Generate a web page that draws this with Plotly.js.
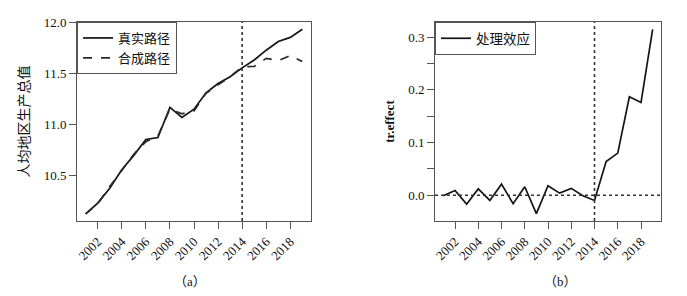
<!DOCTYPE html>
<html>
<head>
<meta charset="utf-8">
<script src="https://cdn.plot.ly/plotly-3.0.1.min.js"></script>
<style>html,body{margin:0;padding:0;background:#fff;}#chart{width:687px;height:296px;}</style>
</head>
<body>
<div id="chart"></div>
<script>
var years = [2001,2002,2003,2004,2005,2006,2007,2008,2009,2010,2011,2012,2013,2014,2015,2016,2017,2018,2019];
var actualPath = [10.13,10.235,10.38,10.56,10.70,10.855,10.873,11.168,11.07,11.15,11.31,11.40,11.466,11.553,11.63,11.725,11.81,11.85,11.93];
var syntheticPath = [10.13,10.226,10.397,10.548,10.71,10.834,10.889,11.152,11.105,11.132,11.306,11.387,11.467,11.563,11.566,11.645,11.623,11.674,11.615];
var treatEffect = [-0.001,0.009,-0.017,0.012,-0.010,0.021,-0.016,0.016,-0.035,0.018,0.004,0.013,-0.001,-0.010,0.064,0.080,0.187,0.176,0.315];
var xTicks = [2002,2004,2006,2008,2010,2012,2014,2016,2018];
var yTicksA = [10.5,11.0,11.5,12.0];
var yTickTextA = ["10.5","11.0","11.5","12.0"];
var yTicksB = [0,0.05,0.1,0.15,0.2,0.25,0.3];
var yTickTextB = ["0.0","","0.1","","0.2","","0.3"];
var treatYear = 2014;

var serif = "'Liberation Serif', 'Times New Roman', 'DejaVu Serif', 'Noto Sans CJK SC', serif";
var ink = "#141414";
var frame = "#555";
var txt = "#111";

var traces = [
  {x: years, y: actualPath, type: "scatter", mode: "lines", name: "真实路径",
   line: {color: ink, width: 1.7}, xaxis: "x", yaxis: "y", legend: "legend"},
  {x: years, y: syntheticPath, type: "scatter", mode: "lines", name: "合成路径",
   line: {color: "#2a2a2a", width: 1.7, dash: "dash"}, xaxis: "x", yaxis: "y", legend: "legend"},
  {x: years, y: treatEffect, type: "scatter", mode: "lines", name: "处理效应",
   line: {color: ink, width: 1.7}, xaxis: "x2", yaxis: "y2", legend: "legend2"}
];

function xAxis(dom, anchor) {
  return {domain: dom, anchor: anchor, range: [2000.28, 2019.72], tickmode: "array", tickvals: xTicks,
    tickangle: -45, ticks: "outside", ticklen: 7, tickcolor: frame, showgrid: false, zeroline: false,
    showline: true, mirror: true, linecolor: frame, linewidth: 1,
    tickfont: {family: serif, size: 13, color: txt}};
}
function yAxis(dom, anchor, rng, tv, tt, title, tfont, standoff) {
  return {domain: dom, anchor: anchor, range: rng, tickmode: "array", tickvals: tv, ticktext: tt,
    ticks: "outside", ticklen: 7, tickcolor: frame, showgrid: false, zeroline: false,
    showline: true, mirror: true, linecolor: frame, linewidth: 1,
    tickfont: {family: serif, size: 13, color: txt},
    title: {text: title, font: tfont, standoff: standoff}};
}

var W = 687;
var layout = {
  width: 687, height: 296,
  margin: {l: 0, r: 0, t: 22, b: 75},
  paper_bgcolor: "#fff", plot_bgcolor: "#fff",
  xaxis: xAxis([77/W, 311/W], "y"),
  yaxis: yAxis([0, 1], "x", [10.06, 12.0], yTicksA, yTickTextA, "人均地区生产总值",
    {family: "'Noto Sans CJK SC', sans-serif", size: 14, color: txt}, 10),
  xaxis2: xAxis([435/W, 661/W], "y2"),
  yaxis2: yAxis([0, 1], "x2", [-0.049, 0.329], yTicksB, yTickTextB, "<b>tr.effect</b>",
    {family: serif, size: 13, color: txt}, 10),
  legend: {x: 77/W, y: 1, xanchor: "left", yanchor: "top", bgcolor: "#fff",
    bordercolor: frame, borderwidth: 1, font: {family: serif, size: 13, color: txt},
    tracegroupgap: 0, itemwidth: 30},
  legend2: {x: 435/W, y: 1, xanchor: "left", yanchor: "top", bgcolor: "#fff",
    bordercolor: frame, borderwidth: 1, font: {family: serif, size: 13.5, color: txt},
    itemwidth: 30},
  shapes: [
    {type: "line", xref: "x", yref: "y domain", x0: treatYear, x1: treatYear, y0: 0, y1: 1,
     line: {color: "#333", width: 1.6, dash: "dot"}},
    {type: "line", xref: "x2", yref: "y2 domain", x0: treatYear, x1: treatYear, y0: 0, y1: 1,
     line: {color: "#333", width: 1.6, dash: "dot"}},
    {type: "line", xref: "x2 domain", yref: "y2", x0: 0, x1: 1, y0: 0, y1: 0,
     line: {color: "#333", width: 1.6, dash: "dot"}}
  ],
  annotations: [
    {text: "（a）", xref: "paper", yref: "paper", x: 190/W, y: -(281-221)/199, xanchor: "center", yanchor: "middle",
     showarrow: false, font: {family: serif, size: 13, color: txt}},
    {text: "（b）", xref: "paper", yref: "paper", x: 560/W, y: -(281-221)/199, xanchor: "center", yanchor: "middle",
     showarrow: false, font: {family: serif, size: 13, color: txt}}
  ],
  showlegend: true
};

Plotly.newPlot("chart", traces, layout, {displayModeBar: false, staticPlot: true});
</script>
</body>
</html>
